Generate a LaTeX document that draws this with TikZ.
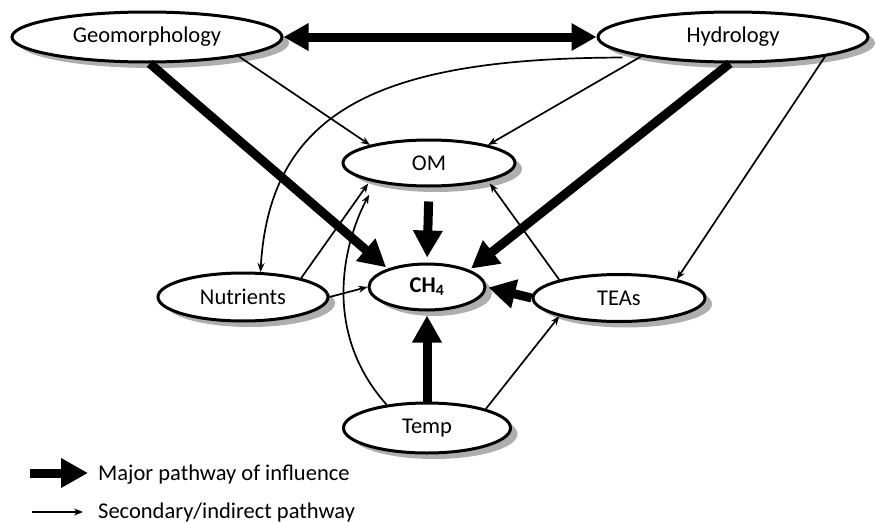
\documentclass[tikz,border=0pt]{standalone}
\usepackage{fontspec}
\setmainfont{Carlito}
\usetikzlibrary{arrows.meta,shapes.geometric,shadows}

\begin{document}
\begin{tikzpicture}[x=1pt,y=-1pt,
  every node/.style={font=\fontsize{22.5}{27}\selectfont},
  factor/.style={ellipse, draw, line width=3pt, fill=white, inner sep=0pt,
    drop shadow={shadow xshift=7pt, shadow yshift=-6pt, fill=black!45, opacity=0.7}},
  major/.style={line width=9pt, -{Triangle[length=27pt,width=28pt]}},
  minor/.style={line width=1.7pt, -{Stealth[length=9pt,width=7pt]}},
  legend/.style={anchor=base west, inner sep=0pt}]
\useasboundingbox (0,0) rectangle (876,522);

\node[factor, minimum width=270pt, minimum height=50pt] (geo) at (147,37) {Geomorphology};
\node[factor, minimum width=270pt, minimum height=50pt] (hyd) at (733,37) {Hydrology};
\node[factor, minimum width=172pt, minimum height=46pt] (om) at (429,163) {OM};
\node[factor, minimum width=116pt, minimum height=46pt] (ch4) at (427,287) {\textbf{CH\textsubscript{4}}};
\node[factor, minimum width=170pt, minimum height=48pt] (nut) at (243,297) {Nutrients};
\node[factor, minimum width=172pt, minimum height=47pt] (tea) at (619,298) {TEAs};
\node[factor, minimum width=167pt, minimum height=50pt] (temp) at (427,428) {Temp};

\draw[line width=9pt, {Triangle[length=25pt,width=26pt]}-{Triangle[length=25pt,width=26pt]}] (geo.east) -- (hyd.west);
\draw[major, shorten >=2pt] (geo.-84) -- (ch4.155);
\draw[major, shorten >=2pt] (hyd.-97) -- (ch4.22);
\draw[major, shorten <=14pt, shorten >=5pt] (om.south) -- (ch4.north);
\draw[major, shorten >=4pt] (temp.north) -- (ch4.south);
\draw[major, shorten >=2pt] (tea.west) -- (ch4.east);

\draw[minor] (geo.-12) -- (om.163);
\draw[minor] (hyd.192) -- (om.17);
\draw[minor] ([yshift=-5pt]hyd.188) .. controls (380,58) and (270,110) .. (nut.55);
\draw[minor] (hyd.-12) -- (tea.18);
\draw[minor, shorten >=3pt] (nut.18) -- (om.197);
\draw[minor] (nut.east) -- (ch4.west);
\draw[minor, shorten >=14pt] (temp.150) .. controls (320,330) and (345,240) .. (om.200);
\draw[minor, shorten >=3pt] (tea.163) -- (om.-17);
\draw[minor] (temp.18) -- (tea.197);

\coordinate (majS) at (30,473);
\coordinate (majE) at (88,473);
\draw[major] (majS) -- (majE);
\node[legend] (majL) at (98,480) {Major pathway of influence};
\coordinate (minS) at (32,512);
\coordinate (minE) at (83,512);
\draw[minor] (minS) -- (minE);
\node[legend] (minL) at (98,518) {Secondary/indirect pathway};
\end{tikzpicture}
\end{document}
